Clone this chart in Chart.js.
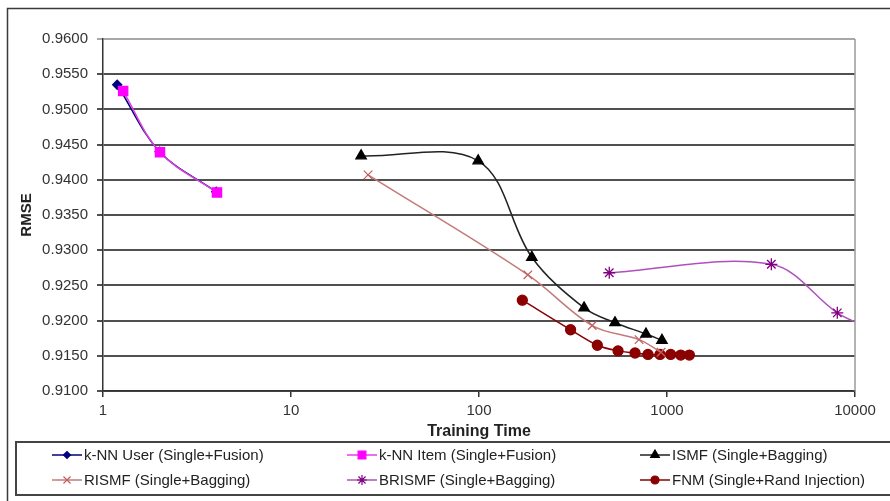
<!DOCTYPE html>
<html>
<head>
<meta charset="utf-8">
<script src="https://cdn.jsdelivr.net/npm/chart.js@4/dist/chart.umd.min.js"></script>
<style>
  html, body { margin: 0; padding: 0; background: #fff; }
  #wrap { width: 890px; height: 501px; }
</style>
</head>
<body>
<div id="wrap"><canvas id="rmse-chart" width="890" height="501"></canvas></div>
<script>
// Values (training time, RMSE)
const userTime = [1.19, 2.0, 4.0];
const userRmse = [0.9535, 0.9440, 0.9383];

const itemTime = [1.28, 2.01, 4.04];
const itemRmse = [0.9526, 0.9439, 0.9382];

const ismfTime = [23.6, 99, 191, 362, 529, 773, 940];
const ismfRmse = [0.9434, 0.9427, 0.9290, 0.9218, 0.9197, 0.9181, 0.9172];

const rismfTime = [25.7, 182, 400, 710, 930];
const rismfRmse = [0.9407, 0.9265, 0.9193, 0.9173, 0.9155];

const brismfTime = [493, 3589, 8050, 11000];
const brismfRmse = [0.9268, 0.9280, 0.9211, 0.9193];

const fnmTime = [170, 307, 426, 549, 676, 792, 918, 1046, 1183, 1315];
const fnmRmse = [0.9229, 0.9187, 0.9165, 0.9157, 0.9154, 0.9152, 0.9152, 0.9152, 0.9151, 0.9151];

const xTicks = [1, 10, 100, 1000, 10000];

const toPoints = (xs, ys) => xs.map((x, i) => ({ x: x, y: ys[i] }));

Chart.defaults.font.family = "'Liberation Sans', Arial, sans-serif";
Chart.defaults.color = '#333';

const makeSet = (label, xs, ys, color, markColor, style, radius, order) => ({
    label: label,
    data: toPoints(xs, ys),
    borderColor: color,
    backgroundColor: markColor,
    pointBackgroundColor: markColor,
    pointBorderColor: markColor,
    pointStyle: style,
    pointRadius: radius,
    pointBorderWidth: 1.3,
    borderWidth: 1.5,
    tension: 0.35,
    fill: false,
    order: order
});

const datasets = [
    makeSet('k-NN User (Single+Fusion)', userTime, userRmse, '#000080', '#000080', 'rectRot', 4.5, 1),
    makeSet('k-NN Item (Single+Fusion)', itemTime, itemRmse, '#e040e0', '#ff00ff', 'rect', 6.5, 0),
    makeSet('ISMF (Single+Bagging)', ismfTime, ismfRmse, '#222', '#000', 'triangle', 6, 0),
    makeSet('RISMF (Single+Bagging)', rismfTime, rismfRmse, '#c47a78', '#c06060', 'crossRot', 6, 0),
    makeSet('BRISMF (Single+Bagging)', brismfTime, brismfRmse, '#b050c0', '#800080', 'star', 6, 0),
    makeSet('FNM (Single+Rand Injection)', fnmTime, fnmRmse, '#8b0000', '#8b0000', 'circle', 5, 0)
];

// Frame, plot border and a 3-column legend like the original
const framePlugin = {
    id: 'framePlugin',
    beforeDraw(chart) {
        const ctx = chart.ctx;
        ctx.save();
        ctx.fillStyle = '#fff';
        ctx.fillRect(0, 0, chart.width, chart.height);
        ctx.restore();
    },
    afterDraw(chart) {
        const ctx = chart.ctx;
        const area = chart.chartArea;
        ctx.save();

        // right edge of plot area
        ctx.strokeStyle = '#9a9a9a';
        ctx.lineWidth = 1.5;
        ctx.beginPath();
        ctx.moveTo(area.right, area.top);
        ctx.lineTo(area.right, area.bottom);
        ctx.stroke();

        // outer frame
        ctx.strokeStyle = '#3a3a3a';
        ctx.lineWidth = 1.5;
        ctx.strokeRect(7.5, 8.5, 900, 520);

        // legend box
        ctx.strokeStyle = '#444';
        ctx.lineWidth = 2;
        ctx.strokeRect(16, 442, 900, 53);

        const colX = [52, 347, 640];
        const rowY = [455, 480];
        ctx.font = "15px 'Liberation Sans', Arial, sans-serif";
        ctx.textBaseline = 'middle';
        ctx.textAlign = 'left';

        chart.data.datasets.forEach((ds, i) => {
            const x0 = colX[i % 3];
            const y = rowY[Math.floor(i / 3)];
            ctx.strokeStyle = ds.borderColor;
            ctx.lineWidth = 1.5;
            ctx.beginPath();
            ctx.moveTo(x0, y);
            ctx.lineTo(x0 + 30, y);
            ctx.stroke();

            ctx.fillStyle = ds.pointBackgroundColor;
            ctx.strokeStyle = ds.pointBorderColor;
            ctx.lineWidth = 1.2;
            Chart.helpers.drawPoint(ctx, {
                pointStyle: ds.pointStyle,
                radius: ds.pointRadius - 1,
                rotation: 0,
                borderWidth: 1.2
            }, x0 + 15, y);

            ctx.fillStyle = '#222';
            ctx.fillText(ds.label, x0 + 32, y + 1);
        });

        ctx.restore();
    }
};

const chart = new Chart(document.getElementById('rmse-chart'), {
    type: 'line',
    data: { datasets: datasets },
    options: {
        responsive: false,
        animation: false,
        layout: {
            padding: { left: 16, top: 39, right: 35, bottom: 60 }
        },
        plugins: {
            legend: { display: false },
            tooltip: { enabled: false }
        },
        scales: {
            x: {
                type: 'logarithmic',
                min: 1,
                max: 10000,
                afterBuildTicks: (scale) => {
                    scale.ticks = xTicks.map(v => ({ value: v, major: true }));
                },
                afterFit: (scale) => { scale.height = 50; },
                ticks: {
                    font: { size: 15 },
                    color: '#333',
                    padding: 5,
                    maxRotation: 0,
                    autoSkip: false,
                    callback: (value) => String(value)
                },
                grid: {
                    drawOnChartArea: false,
                    drawTicks: true,
                    tickLength: 6,
                    color: '#333',
                    lineWidth: 1.5
                },
                border: { color: '#333', width: 1.5 },
                title: {
                    display: true,
                    text: 'Training Time',
                    font: { size: 16, weight: 'bold' },
                    color: '#222',
                    padding: { top: 0, bottom: 0 }
                }
            },
            y: {
                type: 'linear',
                min: 0.91,
                max: 0.96,
                afterFit: (scale) => { scale.width = 87; },
                ticks: {
                    stepSize: 0.005,
                    font: { size: 15 },
                    color: '#333',
                    padding: 9,
                    callback: (value) => Number(value).toFixed(4)
                },
                grid: {
                    color: (ctx) => (ctx.tick && Math.abs(ctx.tick.value - 0.96) < 1e-6) ? '#a8a8a8' : '#505050',
                    lineWidth: 2,
                    tickLength: 6
                },
                border: { color: '#333', width: 1.5 },
                title: {
                    display: true,
                    text: 'RMSE',
                    font: { size: 15, weight: 'bold' },
                    color: '#222',
                    padding: { top: 2, bottom: 0 }
                }
            }
        }
    },
    plugins: [framePlugin]
});
</script>
</body>
</html>
